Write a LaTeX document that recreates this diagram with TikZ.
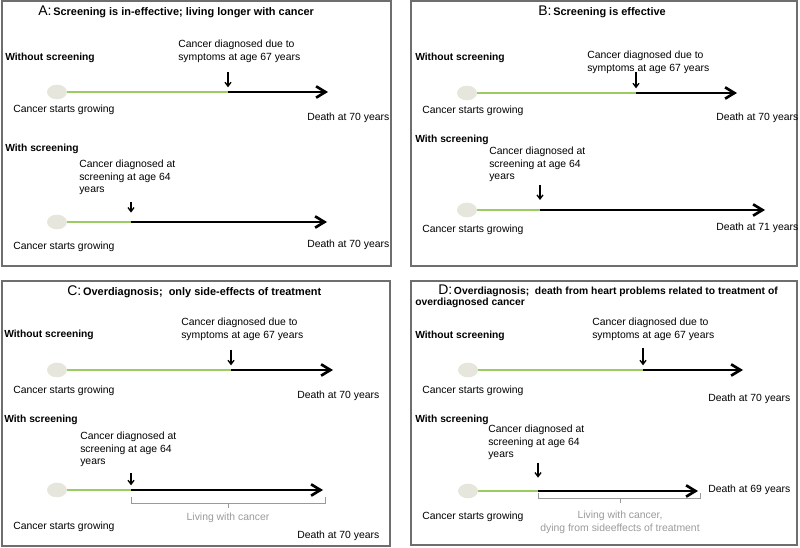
\documentclass[tikz,border=0pt]{standalone}
\usepackage{fontspec}
\setmainfont{Liberation Sans}
\usetikzlibrary{arrows.meta,shapes.geometric,positioning}
\definecolor{stem}{HTML}{9CCB64}
\definecolor{seedgray}{HTML}{E6E6DC}
\definecolor{edge}{HTML}{6E6E6E}
\definecolor{faint}{HTML}{9A9A9A}
\newcommand{\panelletter}[1]{{\mdseries\fontsize{10.5}{12}\selectfont #1}\,}
\begin{document}
\begin{tikzpicture}[x=0.75pt,y=-0.75pt,
    panel/.style={draw=edge,line width=1.1pt},
    title/.style={anchor=west,inner sep=0,font=\bfseries\fontsize{8.2}{9.5}\selectfont},
    hdr/.style={anchor=west,inner sep=0,font=\bfseries\fontsize{7.7}{9}\selectfont},
    lbl/.style={anchor=west,inner sep=0,font=\fontsize{7.8}{9.2}\selectfont},
    note/.style={lbl,anchor=north west,align=left},
    seed/.style={ellipse,fill=seedgray,minimum width=15pt,minimum height=11pt,inner sep=0},
    growth/.style={stem,line width=1.8pt},
    live/.style={line width=2pt,-{Straight Barb[length=7pt,width=8.5pt]}},
    diag/.style={line width=1pt,-{Straight Barb[length=3pt,width=4.5pt]},shorten >=3.5pt},
    span/.style={faint,line width=0.7pt},
    gone/.style={lbl,anchor=north,align=center,text=faint}]
\useasboundingbox (0,0) rectangle (800,548);

% A
\draw[panel] (2,1) rectangle (391,266);
\node[title] (titleA) at (38,12) {\panelletter{A:}Screening is in-effective; living longer with cancer};
\node[hdr] (woA) at (5,58) {Without screening};
\node[note] (symA) at (178,40) {Cancer diagnosed due to\\symptoms at age 67 years};
\node[seed] (sA1) at (57,92) {};
\coordinate (dA1) at (228,92);
\coordinate (eA1) at (328,92);
\coordinate (tA1) at (228,72);
\draw[growth] (sA1) -- (dA1);
\draw[live] (dA1) -- (eA1);
\draw[diag] (tA1) -- (dA1);
\node[lbl] (csA1) at (13,110) {Cancer starts growing};
\node[lbl] (deA1) at (307,118) {Death at 70 years};
\node[hdr] (wiA) at (5,149) {With screening};
\node[note] (scrA) at (79,160) {Cancer diagnosed at\\screening at age 64\\years};
\node[seed] (sA2) at (57,222) {};
\coordinate (dA2) at (131,222);
\coordinate (eA2) at (327,222);
\coordinate (tA2) at (131,202);
\draw[growth] (sA2) -- (dA2);
\draw[live] (dA2) -- (eA2);
\draw[diag,shorten >=7pt] (tA2) -- (dA2);
\node[lbl] (csA2) at (13,247) {Cancer starts growing};
\node[lbl] (deA2) at (307,245) {Death at 70 years};

% B
\draw[panel] (411,1) rectangle (797,266);
\node[title] (titleB) at (538,12) {\panelletter{B:}Screening is effective};
\node[hdr] (woB) at (415,58) {Without screening};
\node[note] (symB) at (587,51) {Cancer diagnosed due to\\symptoms at age 67 years};
\node[seed] (sB1) at (467,93) {};
\coordinate (dB1) at (636,93);
\coordinate (eB1) at (737,93);
\coordinate (tB1) at (636,72);
\draw[growth] (sB1) -- (dB1);
\draw[live] (dB1) -- (eB1);
\draw[diag] (tB1) -- (dB1);
\node[lbl] (csB1) at (422,111) {Cancer starts growing};
\node[lbl] (deB1) at (716,118) {Death at 70 years};
\node[hdr] (wiB) at (415,140) {With screening};
\node[note] (scrB) at (489,147) {Cancer diagnosed at\\screening at age 64\\years};
\node[seed] (sB2) at (467,210) {};
\coordinate (dB2) at (540,210);
\coordinate (eB2) at (765,210);
\coordinate (tB2) at (540,185);
\draw[growth] (sB2) -- (dB2);
\draw[live] (dB2) -- (eB2);
\draw[diag,shorten >=7.5pt] (tB2) -- (dB2);
\node[lbl] (csB2) at (422,230) {Cancer starts growing};
\node[lbl] (deB2) at (716,228) {Death at 71 years};

% C
\draw[panel] (2,281) rectangle (390,546);
\node[title] (titleC) at (67,292) {\panelletter{C:}Overdiagnosis;\ \ only side-effects of treatment};
\node[hdr] (woC) at (4,335) {Without screening};
\node[note] (symC) at (181,318) {Cancer diagnosed due to\\symptoms at age 67 years};
\node[seed] (sC1) at (57,370) {};
\coordinate (dC1) at (231,370);
\coordinate (eC1) at (333,370);
\coordinate (tC1) at (231,350);
\draw[growth] (sC1) -- (dC1);
\draw[live] (dC1) -- (eC1);
\draw[diag] (tC1) -- (dC1);
\node[lbl] (csC1) at (13,391) {Cancer starts growing};
\node[lbl] (deC1) at (297,396) {Death at 70 years};
\node[hdr] (wiC) at (4,420) {With screening};
\node[note] (scrC) at (80,432) {Cancer diagnosed at\\screening at age 64\\years};
\node[seed] (sC2) at (57,490) {};
\coordinate (dC2) at (131,490);
\coordinate (eC2) at (323,490);
\coordinate (tC2) at (131,473);
\draw[growth] (sC2) -- (dC2);
\draw[live] (dC2) -- (eC2);
\draw[diag] (tC2) -- (dC2);
\draw[span] (131,497) -- (131,503) -- (325,503) -- (325,497) (228,503) -- (228,508);
\node[gone] (lwC) at (228,513) {Living with cancer};
\node[lbl] (csC2) at (13,527) {Cancer starts growing};
\node[lbl] (deC2) at (297,536) {Death at 70 years};

% D
\draw[panel] (411,281) rectangle (797,545);
\node[title,font=\bfseries\fontsize{7.75}{9}\selectfont] (titleD) at (438,291) {\panelletter{D:}Overdiagnosis;\ \ death from heart problems related to treatment of};
\node[title,font=\bfseries\fontsize{7.75}{9}\selectfont] (titleD2) at (415,303) {overdiagnosed cancer};
\node[hdr] (woD) at (415,336) {Without screening};
\node[note] (symD) at (592,318) {Cancer diagnosed due to\\symptoms at age 67 years};
\node[seed] (sD1) at (468,370) {};
\coordinate (dD1) at (643,370);
\coordinate (eD1) at (743,370);
\coordinate (tD1) at (643,348);
\draw[growth] (sD1) -- (dD1);
\draw[live] (dD1) -- (eD1);
\draw[diag] (tD1) -- (dD1);
\node[lbl] (csD1) at (422,391) {Cancer starts growing};
\node[lbl] (deD1) at (708,399) {Death at 70 years};
\node[hdr] (wiD) at (415,420) {With screening};
\node[note] (scrD) at (488,425) {Cancer diagnosed at\\screening at age 64\\years};
\node[seed] (sD2) at (468,491) {};
\coordinate (dD2) at (538,491);
\coordinate (eD2) at (698,491);
\coordinate (tD2) at (538,463);
\draw[growth] (sD2) -- (dD2);
\draw[live] (dD2) -- (eD2);
\draw[diag,shorten >=10pt] (tD2) -- (dD2);
\node[lbl] (deD2) at (708,490) {Death at 69 years};
\draw[span] (538,493) -- (538,498) -- (700,498) -- (700,493) (620,498) -- (620,503);
\node[gone] (lwD) at (620,511) {Living with cancer,\\dying from sideeffects of treatment};
\node[lbl] (csD2) at (422,517) {Cancer starts growing};
\end{tikzpicture}
\end{document}
